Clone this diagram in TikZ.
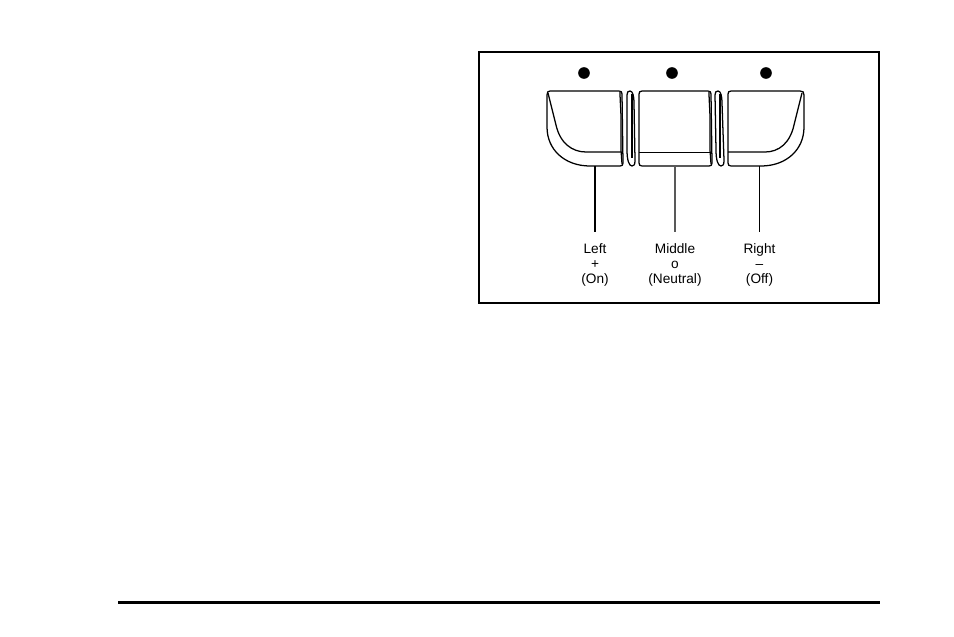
\documentclass[tikz,border=0pt]{standalone}
\usepackage{fontspec}
\setmainfont{Liberation Sans}
\usetikzlibrary{positioning}
\tikzset{
  btnline/.style={line width=0.95pt, line join=round},
  btndot/.style={circle, fill=black, inner sep=0pt, minimum size=8.8pt},
  keylabel/.style={align=center, font=\fontsize{10.3pt}{11.5pt}\selectfont, inner sep=0pt, outer sep=8.5pt, anchor=north},
}
\begin{document}
\begin{tikzpicture}[x=0.0265cm, y=-0.0265cm]
    \useasboundingbox (0,0) rectangle (954,636);
    \draw[line width=1.1pt] (479,52) rectangle (879,303);
    \draw[line width=2.2pt] (118,602.2) -- (880,602.2);

    \node[btndot] (dotleft) at (584,73) {};
    \node[btndot] (dotmiddle) at (672,73) {};
    \node[btndot] (dotright) at (766,73) {};

    \draw[btnline] (550,91) -- (619,91) .. controls (621,91) and (622,92) .. (622,94)
        -- (623,163) .. controls (623,165) and (622,166) .. (620,166) -- (590,166)
        .. controls (565,166) and (547,150) .. (547,127) -- (547,95)
        .. controls (547,92) and (548,91) .. (550,91) -- cycle;
    \draw[btnline] (548,93) -- (556,125) .. controls (560,143) and (572,152) .. (586,152) -- (621,152);
    \draw[btnline] (620,92) .. controls (620,100) and (621,110) .. (621,120) -- (621,150) -- (622,164);

    \draw[btnline] (630,91) .. controls (633,91) and (634,97) .. (634,103) -- (635,160)
        .. controls (635,165) and (634,166) .. (632,166) .. controls (629,166) and (627,160) .. (627,150)
        -- (627,95) .. controls (627,92) and (628,91) .. (630,91) -- cycle;
    \draw[btnline] (632,94) .. controls (632,100) and (632,105) .. (632,115) -- (632,158);

    \draw[btnline] (642,91) -- (708,91) .. controls (710,91) and (711,92) .. (711,94)
        -- (712,163) .. controls (712,165) and (711,166) .. (709,166) -- (642,166)
        .. controls (640,166) and (639,165) .. (639,163) -- (639,94)
        .. controls (639,92) and (640,91) .. (642,91) -- cycle;
    \draw[btnline] (639,152.3) -- (710,152.3);
    \draw[btnline] (709,92) .. controls (709,100) and (710,110) .. (710,120) -- (710,150) -- (711,164);

    \draw[btnline] (718,91) .. controls (721,91) and (722,97) .. (722,103) -- (724,160)
        .. controls (724,165) and (723,166) .. (721,166) .. controls (718,166) and (716,160) .. (716,150)
        -- (715,95) .. controls (715,92) and (716,91) .. (718,91) -- cycle;
    \draw[btnline] (720,94) .. controls (720,100) and (720,105) .. (720,115) -- (720,158);

    \draw[btnline] (731,91) -- (800,91) .. controls (803,91) and (804,92) .. (804,95)
        -- (804,127) .. controls (804,150) and (786,166) .. (761,166) -- (731,166)
        .. controls (729,166) and (728,165) .. (728,163) -- (728,94)
        .. controls (728,92) and (729,91) .. (731,91) -- cycle;
    \draw[btnline] (802,93) -- (794,125) .. controls (790,143) and (779,152) .. (765,152) -- (728,152);

    \coordinate (keyleft) at (595,166);
    \coordinate (keymiddle) at (675,166);
    \coordinate (keyright) at (759.5,166);

    \node[keylabel] (labelleft) at (595,232) {Left\\+\\(On)};
    \node[keylabel] (labelmiddle) at (675,232) {Middle\\o\\(Neutral)};
    \node[keylabel] (labelright) at (759.5,232) {Right\\--\\(Off)};

    \draw[line width=1.2pt] (keyleft) -- (labelleft.north);
    \draw[line width=0.8pt, black!65] (keymiddle) -- (labelmiddle.north);
    \draw[line width=0.6pt] (keyright) -- (labelright.north);
\end{tikzpicture}
\end{document}
